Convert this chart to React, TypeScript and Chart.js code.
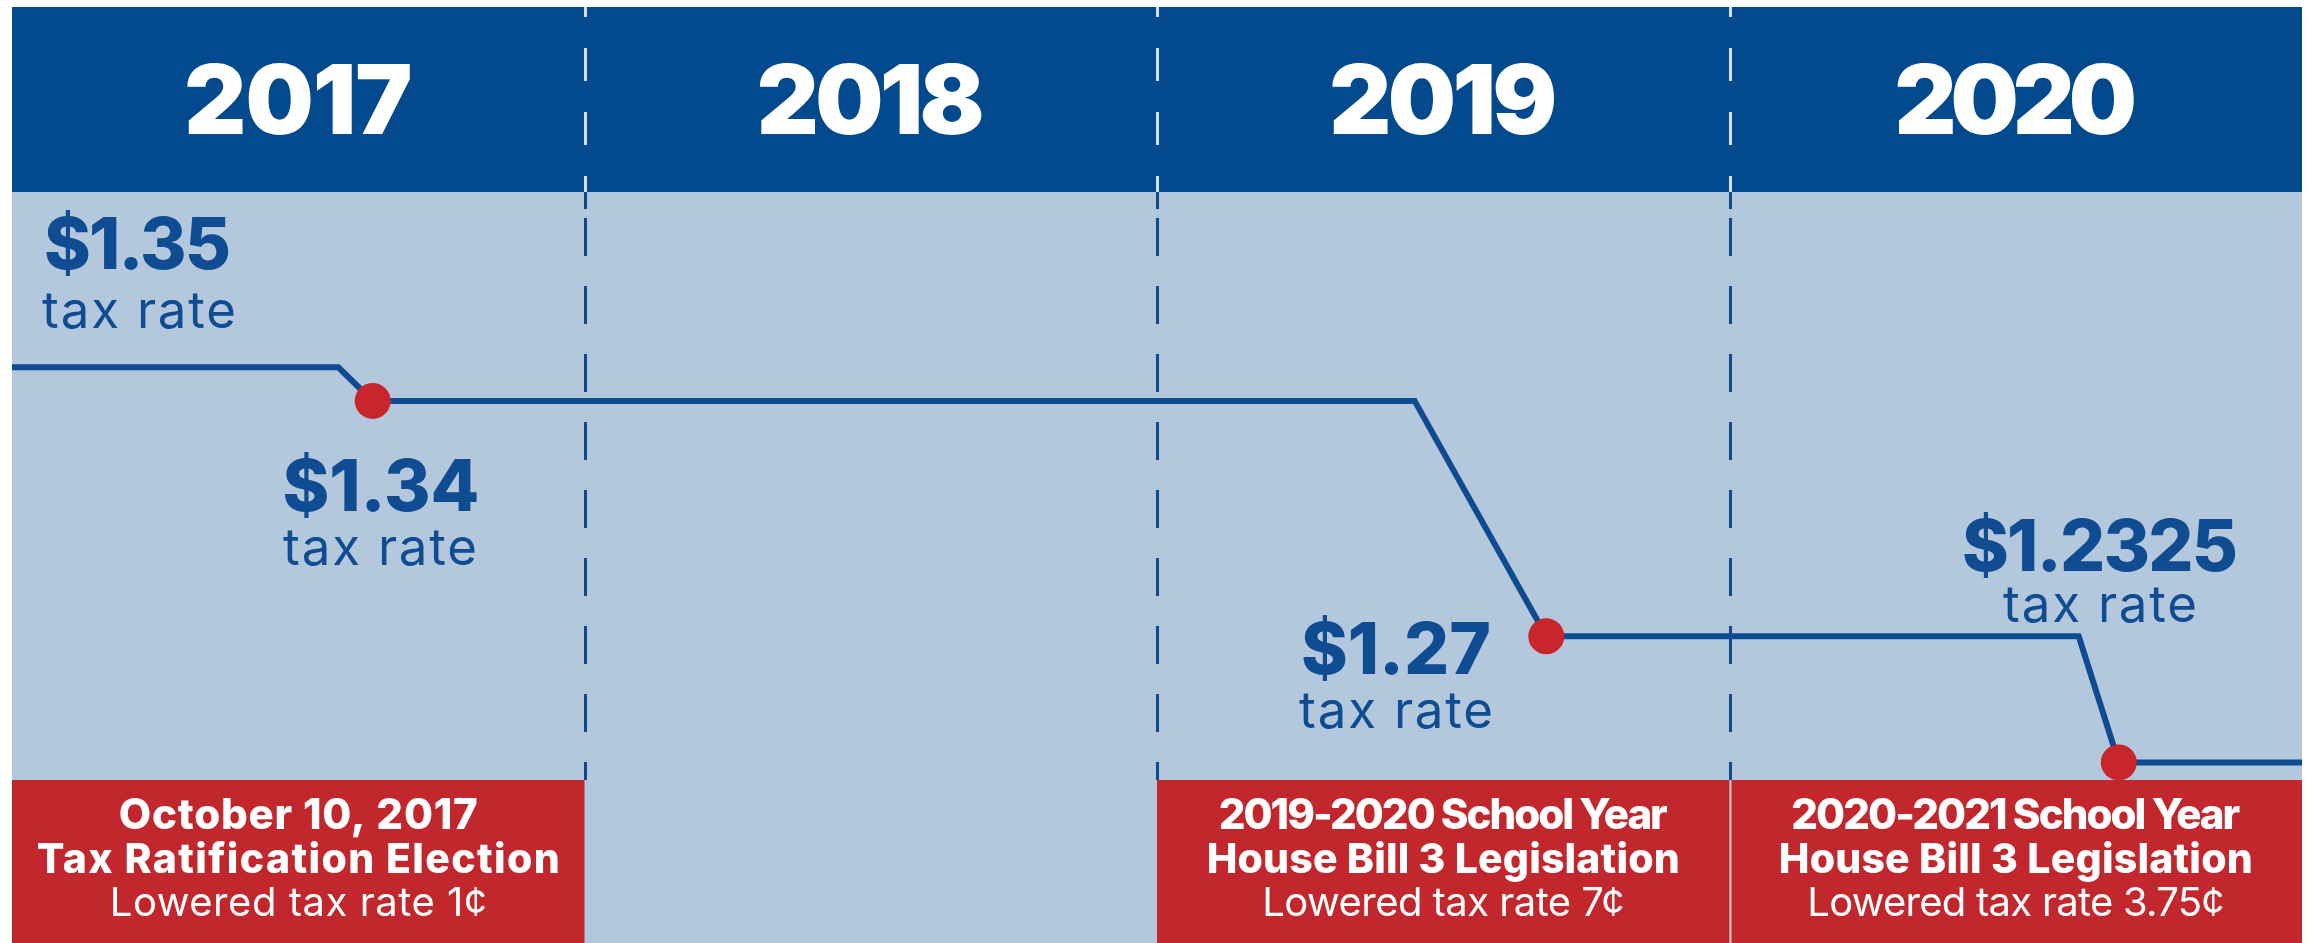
import React, { useEffect, useRef } from 'react';
import { Chart, registerables } from 'chart.js';

Chart.register(...registerables);

// ---------- data ----------
const YEARS = ['2017', '2018', '2019', '2020'];
const YEAR_START = [2017, 2018, 2019, 2020];
const POINT_DATES = [2017.0, 2017.57, 2017.63, 2019.45, 2019.68, 2020.61, 2020.68, 2021.0];
const TAX_RATES = [1.35, 1.35, 1.34, 1.34, 1.27, 1.27, 1.2325, 1.2325];
const IS_CHANGE = [false, false, true, false, true, false, true, false];
const RATE_VALUES = ['$1.35', '$1.34', '$1.27', '$1.2325'];
const RATE_CAPTION = 'tax rate';
const EVENT_YEARS = [2017, 2019, 2020];
const EVENT_TITLES = ['October 10, 2017', '2019-2020 School Year', '2020-2021 School Year'];
const EVENT_SUBTITLES = ['Tax Ratification Election', 'House Bill 3 Legislation', 'House Bill 3 Legislation'];
const EVENT_NOTES = ['Lowered tax rate 1¢', 'Lowered tax rate 7¢', 'Lowered tax rate 3.75¢'];

// ---------- styles / layout ----------
const FONT = 'Inter, "Open Sans", "DejaVu Sans", sans-serif';
const C_HEADER = '#024a8d';
const C_PANEL = '#b3c8dc';
const C_LINE = '#0e4b91';
const C_TEXT = '#0f4c92';
const C_DOT = '#c9252d';
const C_BOX = '#c2272d';
const C_DASH_LIGHT = '#d3e0ec';
const C_DASH_DARK = '#0f4a8a';

const PANEL_TOP = 7;
const HEADER_BOTTOM = 192;
const BOX_TOP = 780;

const RATE_LABEL_LAYOUT: Array<{ x: number; align: 'left' | 'center'; vy: number; cx: number; cy: number; vw: number }> = [
  { x: 44, align: 'left', vy: 269, cx: 42, cy: 328, vw: 187 },
  { x: 381, align: 'center', vy: 511, cx: 380, cy: 565, vw: 197 },
  { x: 1396, align: 'center', vy: 674, cx: 1396, cy: 728, vw: 190 },
  { x: 2100, align: 'center', vy: 571, cx: 2100, cy: 622, vw: 276 },
];
const CAPTION_WIDTH = 194;
const EVENT_WIDTHS = [
  [359, 523, 377],
  [449, 473, 362],
  [449, 474, 417],
];
const EVENT_BASELINES = [829, 873, 916];

function drawFit(
  ctx: CanvasRenderingContext2D,
  text: string,
  x: number,
  y: number,
  font: string,
  align: 'left' | 'center',
  target: number
) {
  ctx.save();
  ctx.font = font;
  (ctx as any).letterSpacing = '0px';
  const natural = ctx.measureText(text).width;
  let ls = (target - natural) / Math.max(1, text.length - 1);
  ls = Math.max(-6, Math.min(8, ls));
  (ctx as any).letterSpacing = ls + 'px';
  const width = natural + ls * (text.length - 1);
  const left = align === 'center' ? x - width / 2 : x;
  ctx.textAlign = 'left';
  ctx.textBaseline = 'alphabetic';
  ctx.fillText(text, left, y);
  ctx.restore();
}

function dashed(
  ctx: CanvasRenderingContext2D,
  x: number,
  y0: number,
  y1: number,
  dash: number,
  gap: number,
  color: string,
  clipTop: number,
  clipBottom: number
) {
  ctx.save();
  ctx.beginPath();
  ctx.rect(x - 5, clipTop, 10, clipBottom - clipTop);
  ctx.clip();
  ctx.strokeStyle = color;
  ctx.lineWidth = 3;
  ctx.setLineDash([dash, gap]);
  ctx.beginPath();
  ctx.moveTo(x, y0);
  ctx.lineTo(x, y1);
  ctx.stroke();
  ctx.restore();
}

const infographicPlugin = {
  id: 'infographic',
  beforeDraw(chart: any) {
    const { ctx, chartArea, width, height } = chart;
    ctx.save();
    ctx.fillStyle = '#ffffff';
    ctx.fillRect(0, 0, width, height);
    ctx.fillStyle = C_HEADER;
    ctx.fillRect(chartArea.left, PANEL_TOP, chartArea.right - chartArea.left, HEADER_BOTTOM - PANEL_TOP);
    ctx.fillStyle = C_PANEL;
    ctx.fillRect(chartArea.left, HEADER_BOTTOM, chartArea.right - chartArea.left, height - HEADER_BOTTOM);
    ctx.restore();
  },
  beforeDatasetsDraw(chart: any) {
    const { ctx, chartArea, height } = chart;
    const xs = chart.scales.x;
    YEAR_START.slice(1).forEach((yr) => {
      const x = Math.round(xs.getPixelForValue(yr)) + 0.5;
      dashed(ctx, x, -16, 230, 33, 31, C_DASH_LIGHT, PANEL_TOP, HEADER_BOTTOM);
      dashed(ctx, x, -16, 230, 33, 31, C_DASH_DARK, HEADER_BOTTOM, 212);
      dashed(ctx, x, 218, BOX_TOP, 38, 30, C_DASH_DARK, 212, BOX_TOP);
    });
    EVENT_YEARS.forEach((yr) => {
      const l = xs.getPixelForValue(yr);
      const r = Math.min(xs.getPixelForValue(yr + 1), chartArea.right);
      ctx.save();
      ctx.fillStyle = C_BOX;
      ctx.fillRect(l, BOX_TOP, r - l, height - BOX_TOP);
      ctx.restore();
    });
    EVENT_YEARS.forEach((yr) => {
      if (EVENT_YEARS.includes(yr + 1)) {
        const x = Math.round(xs.getPixelForValue(yr + 1)) + 0.5;
        ctx.save();
        ctx.strokeStyle = 'rgba(235,225,228,0.85)';
        ctx.lineWidth = 2;
        ctx.beginPath();
        ctx.moveTo(x, BOX_TOP);
        ctx.lineTo(x, height);
        ctx.stroke();
        ctx.restore();
      }
    });
  },
  afterDatasetsDraw(chart: any) {
    const { ctx } = chart;
    const xs = chart.scales.x;
    ctx.save();
    ctx.fillStyle = '#ffffff';
    YEARS.forEach((label, i) => {
      const cx = xs.getPixelForValue(YEAR_START[i] + 0.5);
      drawFit(ctx, label, cx, 134, `900 96px ${FONT}`, 'center', 228);
    });
    ctx.restore();
    ctx.save();
    ctx.fillStyle = C_TEXT;
    RATE_VALUES.forEach((v, i) => {
      const L = RATE_LABEL_LAYOUT[i];
      drawFit(ctx, v, L.x, L.vy, `800 71px ${FONT}`, L.align, L.vw);
      drawFit(ctx, RATE_CAPTION, L.cx, L.cy, `400 51px ${FONT}`, L.align, CAPTION_WIDTH);
    });
    ctx.restore();
    ctx.save();
    ctx.fillStyle = '#ffffff';
    EVENT_YEARS.forEach((yr, i) => {
      const l = xs.getPixelForValue(yr);
      const r = Math.min(xs.getPixelForValue(yr + 1), chart.chartArea.right);
      const cx = (l + r) / 2;
      drawFit(ctx, EVENT_TITLES[i], cx, EVENT_BASELINES[0], `800 42px ${FONT}`, 'center', EVENT_WIDTHS[i][0]);
      drawFit(ctx, EVENT_SUBTITLES[i], cx, EVENT_BASELINES[1], `800 41px ${FONT}`, 'center', EVENT_WIDTHS[i][1]);
      drawFit(ctx, EVENT_NOTES[i], cx, EVENT_BASELINES[2], `400 40px ${FONT}`, 'center', EVENT_WIDTHS[i][2]);
    });
    ctx.restore();
  },
};

export default function App() {
  const canvasRef = useRef<HTMLCanvasElement | null>(null);

  useEffect(() => {
    document.body.style.margin = '0';
    let chart: Chart | null = null;
    let cancelled = false;
    const fontsReady = (document as any).fonts
      ? Promise.all([
          (document as any).fonts.load(`900 96px Inter`),
          (document as any).fonts.load(`800 68px Inter`),
          (document as any).fonts.load(`400 51px Inter`),
        ]).catch(() => null)
      : Promise.resolve(null);
    fontsReady.then(() => {
      if (cancelled || !canvasRef.current) return;
      chart = new Chart(canvasRef.current, {
        type: 'line',
        data: {
          datasets: [
            {
              data: POINT_DATES.map((x, i) => ({ x, y: TAX_RATES[i] })),
              borderColor: C_LINE,
              borderWidth: 6,
              borderJoinStyle: 'miter',
              borderCapStyle: 'butt',
              tension: 0,
              fill: false,
              clip: false as any,
              pointRadius: IS_CHANGE.map((c) => (c ? 18 : 0)),
              pointHoverRadius: IS_CHANGE.map((c) => (c ? 18 : 0)),
              pointBackgroundColor: C_DOT,
              pointBorderWidth: 0,
              pointBorderColor: C_DOT,
            },
          ],
        },
        options: {
          responsive: false,
          animation: false,
          events: [],
          layout: { padding: { left: 12, right: 8, top: 0, bottom: 0 } },
          plugins: { legend: { display: false }, tooltip: { enabled: false } },
          scales: {
            x: { type: 'linear', min: 2017, max: 2021, display: false },
            y: { type: 'linear', min: 1.1788, max: 1.4592, display: false },
          },
        },
        plugins: [infographicPlugin],
      });
    });
    return () => {
      cancelled = true;
      if (chart) chart.destroy();
    };
  }, []);

  return <canvas ref={canvasRef} width={2310} height={943} style={{ display: 'block' }} />;
}
